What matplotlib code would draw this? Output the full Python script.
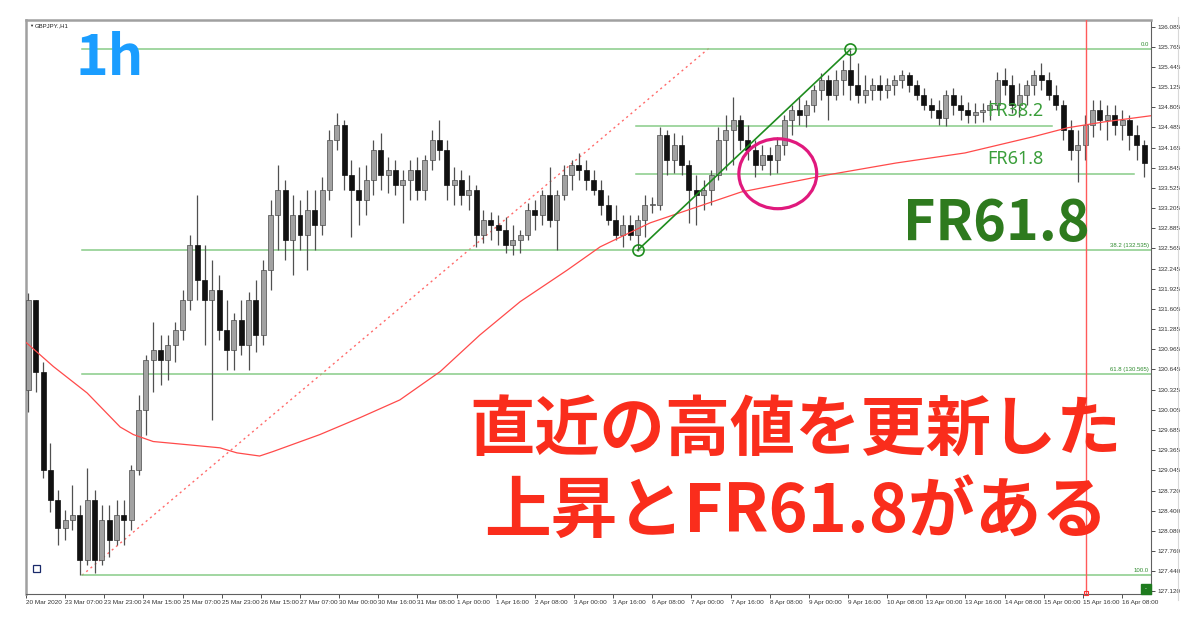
import matplotlib.pyplot as plt
from matplotlib.patches import Ellipse, Rectangle
from matplotlib.transforms import blended_transform_factory

plt.rcParams['font.family'] = ['Liberation Sans', 'DejaVu Sans']

first_open = 130.32
highs = [131.86, 131.75, 130.77, 129.48, 128.73, 128.42, 128.81, 128.50, 129.08, 128.73,
         128.50, 128.50, 128.57, 128.57, 129.13, 130.24, 130.88, 131.40, 131.19, 131.19,
         131.40, 131.91, 132.78, 133.42, 132.62, 132.38, 132.15, 131.75, 131.54, 131.75,
         131.88, 132.07, 132.38, 133.34, 133.89, 133.65, 133.42, 133.34, 133.49, 133.49,
         133.70, 134.45, 134.72, 134.61, 133.97, 133.86, 133.89, 134.29, 134.40, 134.02,
         133.97, 133.81, 133.97, 134.02, 134.05, 134.45, 134.61, 134.29, 133.86, 133.81,
         133.73, 133.57, 133.18, 133.15, 133.10, 133.07, 132.94, 132.86, 133.29, 133.34,
         133.49, 133.86, 133.49, 133.89, 133.97, 134.08, 133.97, 133.81, 133.65, 133.42,
         133.26, 133.10, 133.10, 133.10, 133.42, 133.38, 134.49, 134.45, 134.40, 134.37,
         133.97, 133.73, 133.65, 133.81, 134.49, 134.68, 134.97, 134.68, 134.53, 134.29,
         134.21, 134.18, 134.34, 134.68, 134.84, 134.97, 134.92, 135.16, 135.35, 135.32,
         135.40, 135.56, 135.72, 135.51, 135.32, 135.27, 135.32, 135.27, 135.32, 135.40,
         135.37, 135.24, 135.11, 134.95, 134.92, 135.08, 135.11, 135.00, 134.89, 134.87,
         134.87, 134.92, 135.37, 135.43, 135.32, 135.19, 135.24, 135.40, 135.51, 135.37,
         135.16, 134.92, 134.61, 134.45, 134.68, 134.92, 134.92, 134.84, 134.84, 134.76,
         134.68, 134.53, 134.29]
lows = [129.97, 130.29, 128.92, 128.38, 127.86, 127.94, 128.10, 127.38, 127.54, 127.42,
        127.54, 127.67, 127.86, 127.86, 128.10, 128.97, 129.61, 130.29, 130.40, 130.48,
        130.77, 131.11, 131.59, 131.75, 131.03, 129.84, 131.11, 130.64, 130.64, 130.88,
        130.64, 130.92, 131.03, 131.91, 132.54, 132.38, 132.15, 132.54, 132.22, 132.54,
        132.78, 133.34, 134.13, 133.49, 132.75, 132.94, 133.10, 133.42, 133.49, 133.45,
        133.42, 132.97, 133.34, 133.34, 133.34, 133.81, 133.97, 133.34, 133.26, 133.26,
        133.18, 132.59, 132.65, 132.70, 132.62, 132.49, 132.46, 132.49, 132.70, 132.86,
        132.94, 132.91, 132.54, 133.34, 133.49, 133.65, 133.49, 133.42, 133.10, 132.94,
        132.70, 132.59, 132.70, 132.53, 132.75, 133.13, 133.18, 133.73, 133.76, 133.73,
        132.97, 132.94, 133.18, 133.26, 133.65, 133.81, 133.89, 134.13, 133.97, 133.70,
        133.81, 133.73, 133.76, 134.05, 134.37, 134.53, 134.49, 134.73, 134.92, 134.61,
        134.92, 135.00, 134.92, 134.87, 134.87, 134.92, 134.92, 134.95, 135.00, 135.11,
        135.05, 134.92, 134.76, 134.64, 134.53, 134.51, 134.68, 134.61, 134.56, 134.56,
        134.57, 134.61, 134.76, 135.00, 134.72, 134.65, 134.84, 135.00, 135.08, 134.92,
        134.76, 134.29, 133.97, 133.62, 133.97, 134.34, 134.45, 134.29, 134.37, 134.29,
        134.13, 133.97, 133.70]
closes = [131.75, 130.61, 129.05, 128.57, 128.13, 128.26, 128.34, 127.62, 128.57, 127.62,
          128.26, 127.94, 128.34, 128.26, 129.05, 130.00, 130.80, 130.96, 130.80, 131.03,
          131.27, 131.75, 132.62, 132.07, 131.75, 131.91, 131.27, 130.96, 131.43, 131.03,
          131.75, 131.19, 132.22, 133.10, 133.49, 132.70, 133.10, 132.78, 133.18, 132.94,
          133.49, 134.29, 134.53, 133.73, 133.49, 133.34, 133.65, 134.13, 133.73, 133.81,
          133.57, 133.65, 133.81, 133.49, 133.97, 134.29, 134.13, 133.57, 133.65, 133.42,
          133.49, 132.78, 133.02, 132.94, 132.86, 132.62, 132.70, 132.78, 133.18, 133.10,
          133.42, 133.02, 133.42, 133.73, 133.89, 133.81, 133.65, 133.49, 133.26, 133.02,
          132.78, 132.94, 132.78, 133.02, 133.26, 133.26, 134.37, 133.97, 134.21, 133.89,
          133.49, 133.42, 133.49, 133.73, 134.29, 134.45, 134.61, 134.29, 134.13, 133.89,
          134.05, 133.97, 134.21, 134.61, 134.76, 134.68, 134.84, 135.08, 135.24, 135.00,
          135.24, 135.40, 135.16, 135.00, 135.08, 135.16, 135.08, 135.16, 135.24, 135.32,
          135.16, 135.00, 134.84, 134.76, 134.64, 135.00, 134.84, 134.76, 134.68, 134.73,
          134.76, 134.84, 135.24, 135.16, 134.84, 135.00, 135.16, 135.32, 135.24, 135.00,
          134.84, 134.45, 134.13, 134.21, 134.53, 134.76, 134.61, 134.68, 134.53, 134.61,
          134.37, 134.21, 133.92]

# red moving average (x in candle units)
ma_x = [-0.3, 3.4, 8.0, 12.5, 14.3, 17.0, 21.6, 26.1, 28.4, 31.5, 33.3, 39.7, 45.2, 50.6,
        56.1, 61.5, 67.0, 73.4, 77.9, 84.7, 90.0, 97.1, 108.8, 118.2, 127.6, 137.0, 141.6,
        146.4, 152.9]
ma_y = [131.07, 130.69, 130.27, 129.73, 129.61, 129.50, 129.45, 129.40, 129.32, 129.27,
        129.34, 129.61, 129.88, 130.16, 130.61, 131.19, 131.72, 132.22, 132.59, 132.97,
        133.18, 133.46, 133.73, 133.92, 134.08, 134.34, 134.48, 134.57, 134.67]

# fibonacci (big swing 127.377 -> 135.724) and small swing (132.535 -> 135.724)
fib_low, fib_high = 127.377, 135.724
small_low = 132.535
big_levels = [0.0, 38.2, 61.8, 100.0]
big_labels = ["0.0", "38.2 (132.535)", "61.8 (130.565)", "100.0"]
small_levels = [38.2, 61.8]
small_names = ["FR38.2", "FR61.8"]

ytick_vals = [136.085, 135.765, 135.445, 135.125, 134.805, 134.485, 134.165, 133.845,
              133.525, 133.205, 132.885, 132.565, 132.245, 131.925, 131.605, 131.285,
              130.965, 130.645, 130.325, 130.005, 129.685, 129.365, 129.045, 128.720,
              128.400, 128.080, 127.760, 127.440, 127.120]
xtick_labels = ["20 Mar 2020", "23 Mar 07:00", "23 Mar 23:00", "24 Mar 15:00", "25 Mar 07:00",
                "25 Mar 23:00", "26 Mar 15:00", "27 Mar 07:00", "30 Mar 00:00", "30 Mar 16:00",
                "31 Mar 08:00", "1 Apr 00:00", "1 Apr 16:00", "2 Apr 08:00", "3 Apr 00:00",
                "3 Apr 16:00", "6 Apr 08:00", "7 Apr 00:00", "7 Apr 16:00", "8 Apr 08:00",
                "9 Apr 00:00", "9 Apr 16:00", "10 Apr 08:00", "13 Apr 00:00", "13 Apr 16:00",
                "14 Apr 08:00", "15 Apr 00:00", "15 Apr 16:00", "16 Apr 08:00"]

W, H = 1200, 627
fig = plt.figure(figsize=(W / 100, H / 100), dpi=100)
fig.patch.set_facecolor("white")
L, R, T, B = 26, 1151, 20, 594
ax = fig.add_axes([L / W, 1 - B / H, (R - L) / W, (B - T) / H])
ax.set_xlim(-0.33, 152.95)
ax.set_ylim(127.08, 136.19)

# candles
opens = [first_open] + closes[:-1]
xs = list(range(len(closes)))
ax.vlines(xs, lows, highs, color="#505050", lw=0.9, zorder=3)
for x, o, c in zip(xs, opens, closes):
    bottom = min(o, c)
    h = max(abs(c - o), 0.012)
    if c >= o:
        ax.bar(x, h, bottom=bottom, width=0.68, color="#a2a2a2", edgecolor="#4a4a4a",
               lw=0.5, zorder=4)
    else:
        ax.bar(x, h, bottom=bottom, width=0.68, color="#111111", edgecolor="#111111",
               lw=0.5, zorder=4)

# moving average
ax.plot(ma_x, ma_y, color="#ff4a4a", lw=0.9, zorder=5)

# dotted red trend line
ax.plot([7.3, 92.9], [fib_low, 135.76], color="#ff6a6a", lw=1.0, ls=(0, (1.5, 2.5)), zorder=2)

# big fibo levels
rng = fib_high - fib_low
trans = blended_transform_factory(ax.transAxes, ax.transData)
for lv, lab in zip(big_levels, big_labels):
    p = fib_high - rng * lv / 100
    ax.plot([7.3, 152.95], [p, p], color="#88cc88", lw=1.1, zorder=2)
    ax.text(0.998, p + 0.04, lab, transform=trans, ha="right", va="bottom",
            fontsize=4.3, color="#2e8b2e", zorder=6)

# small fibo levels
srng = fib_high - small_low
small_ends = [139.5, 150.6]
for lv, end, name in zip(small_levels, small_ends, small_names):
    p = fib_high - srng * lv / 100
    ax.plot([82.8, end], [p, p], color="#88cc88", lw=1.1, zorder=2)
    ax.text(130.6, p + 0.09, name, ha="left", va="bottom", fontsize=13,
            color="#3a9e3a", family=["Noto Sans", "DejaVu Sans"], zorder=6)

# green trend line with anchor circles
ax.plot([83, 112], [small_low, fib_high], color="#1e8c1e", lw=1.2, zorder=6)
ax.plot([83, 112], [small_low, fib_high], ls="none", marker="o", ms=8, mfc="none",
        mec="#1e8c1e", mew=1.2, zorder=6)

# vertical red line
ax.axvline(144.1, color="#ff5a5a", lw=1.0, zorder=6)
ax.plot([144.1], [127.1], marker="s", ms=3.5, mfc="none", mec="#ff3030", mew=0.8,
        clip_on=False, zorder=7)

# pink circle
ax.add_patch(Ellipse((102.1, 133.75), 10.6, 1.11, fill=False, ec="#e0197d", lw=2.3, zorder=8))

# small square at bottom-left
ax.add_patch(Rectangle((0.006, 0.038), 7 / (R - L), 7 / (B - T), transform=ax.transAxes,
                       fill=False, ec="#1a2a6a", lw=0.9, zorder=8))

# axes styling
ax.yaxis.tick_right()
ax.set_yticks(ytick_vals)
ax.set_yticklabels([f"{v:.3f}" for v in ytick_vals])
xt = [(16 * j - 1) / 3 for j in range(len(xtick_labels))]
ax.set_xticks(xt)
ax.set_xticklabels(xtick_labels)
for lab in ax.get_xticklabels():
    lab.set_horizontalalignment("left")
ax.tick_params(axis="y", direction="out", length=3, width=0.6, labelsize=4.6, pad=2,
               colors="#333333")
ax.tick_params(axis="x", direction="out", length=3, width=0.6, labelsize=4.6, pad=1.5,
               colors="#333333")
for s in ["left", "top"]:
    ax.spines[s].set_color("#a0a0a0")
    ax.spines[s].set_linewidth(1.8)
for s in ["right", "bottom"]:
    ax.spines[s].set_color("#606060")
    ax.spines[s].set_linewidth(0.8)

# header label
fig.text(29 / W, 1 - 26 / H, "\u25bc", fontsize=3, color="#222222", va="center")
fig.text(35 / W, 1 - 26 / H, "GBPJPY.,H1", fontsize=4.3, color="#222222", va="center")

# green box bottom-right
fig.patches.append(Rectangle((1141 / W, 1 - 594 / H), 10 / W, 10 / H, transform=fig.transFigure,
                             fc="#1e7b1e", ec="#1e7b1e", zorder=10))
fig.text(1146 / W, 1 - 589 / H, "-", fontsize=4, color="white", ha="center", va="center",
         zorder=11)

# overlay texts
cjk = ["Noto Sans CJK JP", "DejaVu Sans"]
fig.text(75 / W, 1 - 75 / H, "1h", fontsize=40, fontweight="bold", color="#1a9dff",
         family=cjk, va="baseline")
fig.text(903 / W, 1 - 240 / H, "FR61.8", fontsize=40, fontweight="bold", color="#2e7a1e",
         family=cjk, va="baseline")
fig.text(796 / W, 1 - 430 / H, "直近の高値を更新した", fontsize=47, fontweight="bold",
         color="#fa2d1c", family=cjk, ha="center", va="center")
fig.text(796 / W, 1 - 512 / H, "上昇とFR61.8がある", fontsize=48, fontweight="bold",
         color="#fa2d1c", family=cjk, ha="center", va="center")

# window border at right
fig.add_artist(plt.Line2D([1178 / W, 1178 / W], [1 - 600 / H, 1 - 17 / H],
                          transform=fig.transFigure, color="#d8d8d8", lw=0.8))

fig.savefig("out.png", dpi=100)
